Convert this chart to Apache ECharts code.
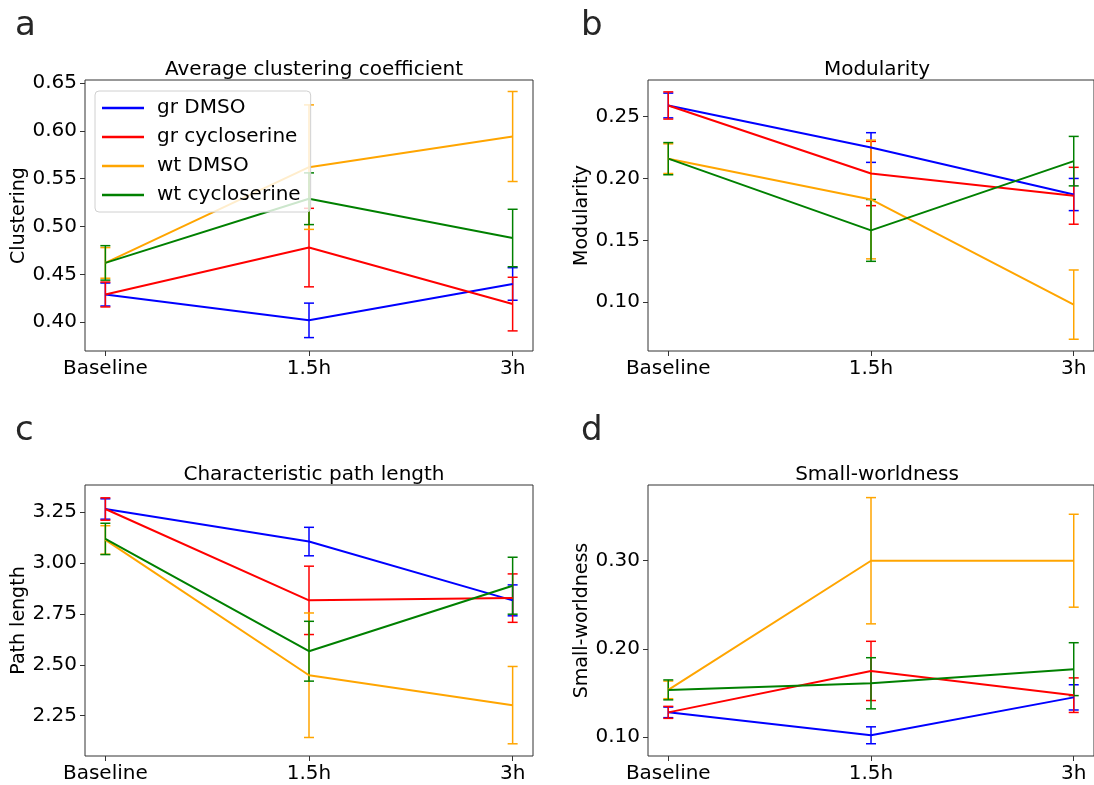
<!DOCTYPE html>
<html>
<head>
<meta charset="utf-8">
<script src="https://cdn.jsdelivr.net/npm/echarts@6/dist/echarts.min.js"></script>
<style>
  body { margin: 0; background: #fff; }
  #chart { width: 1094px; height: 785px; }
</style>
</head>
<body>
<div id="chart"></div>
<script>
var timePoints = ['Baseline', '1.5h', '3h'];
var groupNames = ['gr DMSO', 'gr cycloserine', 'wt DMSO', 'wt cycloserine'];
var groupColors = ['#0000ff', '#ff0000', '#ffa500', '#008000'];

// a - average clustering coefficient
var cluGrDmso = [0.429, 0.402, 0.440];
var cluGrDmsoErr = [0.012, 0.018, 0.017];
var cluGrCyclo = [0.429, 0.478, 0.419];
var cluGrCycloErr = [0.013, 0.041, 0.028];
var cluWtDmso = [0.462, 0.562, 0.594];
var cluWtDmsoErr = [0.016, 0.065, 0.047];
var cluWtCyclo = [0.462, 0.529, 0.488];
var cluWtCycloErr = [0.018, 0.027, 0.030];

// b - modularity
var modGrDmso = [0.259, 0.225, 0.187];
var modGrDmsoErr = [0.010, 0.012, 0.013];
var modGrCyclo = [0.259, 0.204, 0.186];
var modGrCycloErr = [0.011, 0.026, 0.023];
var modWtDmso = [0.216, 0.183, 0.098];
var modWtDmsoErr = [0.012, 0.048, 0.028];
var modWtCyclo = [0.216, 0.158, 0.214];
var modWtCycloErr = [0.013, 0.025, 0.020];

// c - characteristic path length
var pathGrDmso = [3.266, 3.106, 2.817];
var pathGrDmsoErr = [0.050, 0.070, 0.076];
var pathGrCyclo = [3.266, 2.817, 2.828];
var pathGrCycloErr = [0.055, 0.168, 0.119];
var pathWtDmso = [3.114, 2.449, 2.302];
var pathWtDmsoErr = [0.070, 0.306, 0.190];
var pathWtCyclo = [3.119, 2.567, 2.889];
var pathWtCycloErr = [0.077, 0.147, 0.140];

// d - small-worldness
var swGrDmso = [0.128, 0.102, 0.145];
var swGrDmsoErr = [0.006, 0.0096, 0.0143];
var swGrCyclo = [0.128, 0.175, 0.1475];
var swGrCycloErr = [0.0068, 0.0336, 0.0196];
var swWtDmso = [0.1535, 0.300, 0.300];
var swWtDmsoErr = [0.010, 0.0716, 0.0527];
var swWtCyclo = [0.1535, 0.161, 0.177];
var swWtCycloErr = [0.0113, 0.029, 0.030];

var yTicksClu = [0.40, 0.45, 0.50, 0.55, 0.60, 0.65];
var yTicksMod = [0.10, 0.15, 0.20, 0.25];
var yTicksPath = [2.25, 2.50, 2.75, 3.00, 3.25];
var yTicksSw = [0.10, 0.20, 0.30];

var panels = [
    { letter: 'a', title: 'Average clustering coefficient', ylabel: 'Clustering', left: 85, top: 80,
      min: 0.370, max: 0.653, ticks: yTicksClu,
      vals: [cluGrDmso, cluGrCyclo, cluWtDmso, cluWtCyclo],
      errs: [cluGrDmsoErr, cluGrCycloErr, cluWtDmsoErr, cluWtCycloErr] },
    { letter: 'b', title: 'Modularity', ylabel: 'Modularity', left: 648, top: 80,
      min: 0.0605, max: 0.2796, ticks: yTicksMod,
      vals: [modGrDmso, modGrCyclo, modWtDmso, modWtCyclo],
      errs: [modGrDmsoErr, modGrCycloErr, modWtDmsoErr, modWtCycloErr] },
    { letter: 'c', title: 'Characteristic path length', ylabel: 'Path length', left: 85, top: 485,
      min: 2.052, max: 3.384, ticks: yTicksPath,
      vals: [pathGrDmso, pathGrCyclo, pathWtDmso, pathWtCyclo],
      errs: [pathGrDmsoErr, pathGrCycloErr, pathWtDmsoErr, pathWtCycloErr] },
    { letter: 'd', title: 'Small-worldness', ylabel: 'Small-worldness', left: 648, top: 485,
      min: 0.0785, max: 0.3859, ticks: yTicksSw,
      vals: [swGrDmso, swGrCyclo, swWtDmso, swWtCyclo],
      errs: [swGrDmsoErr, swGrCycloErr, swWtDmsoErr, swWtCycloErr] }
];

var plotW = 448, plotH = 271;
var font = 'DejaVu Sans';

function errorBarItem(params, api) {
    var x = api.value(0), y = api.value(1), e = api.value(2);
    var hi = api.coord([x, y + e]);
    var lo = api.coord([x, y - e]);
    var cap = 5;
    var style = { stroke: api.visual('color'), lineWidth: 1.5 };
    return {
        type: 'group',
        children: [
            { type: 'line', shape: { x1: hi[0], y1: hi[1], x2: lo[0], y2: lo[1] }, style: style },
            { type: 'line', shape: { x1: hi[0] - cap, y1: hi[1], x2: hi[0] + cap, y2: hi[1] }, style: style },
            { type: 'line', shape: { x1: lo[0] - cap, y1: lo[1], x2: lo[0] + cap, y2: lo[1] }, style: style }
        ]
    };
}

var titles = [], grids = [], xAxes = [], yAxes = [], series = [];

panels.forEach(function(p, k) {
    titles.push({
        text: p.title, left: p.left + plotW / 2, top: p.top - 25, textAlign: 'center',
        textStyle: { fontFamily: font, fontSize: 20, fontWeight: 'normal', color: '#000' }
    });
    titles.push({
        text: p.letter, left: p.left < 300 ? 10 : 576, top: p.top - 76,
        textStyle: { fontFamily: font, fontSize: 34, fontWeight: 'normal', color: '#262626' }
    });
    grids.push({
        left: p.left, top: p.top, width: plotW, height: plotH,
        show: true, borderColor: '#333', borderWidth: 1, backgroundColor: 'transparent'
    });
    xAxes.push({
        type: 'value', gridIndex: k, min: -0.1, max: 2.1, position: 'bottom',
        axisLine: { show: false, onZero: false },
        splitLine: { show: false },
        axisTick: { show: true, length: 5, customValues: [0, 1, 2], lineStyle: { color: '#333' } },
        axisLabel: {
            customValues: [0, 1, 2], margin: 8, fontFamily: font, fontSize: 20, color: '#000',
            formatter: function(v) { return timePoints[Math.round(v)]; }
        }
    });
    yAxes.push({
        type: 'value', gridIndex: k, min: p.min, max: p.max, position: 'left',
        name: p.ylabel, nameLocation: 'middle', nameGap: 54,
        nameTextStyle: { fontFamily: font, fontSize: 19, color: '#000' },
        axisLine: { show: false, onZero: false },
        splitLine: { show: false },
        axisTick: { show: true, length: 5, customValues: p.ticks, lineStyle: { color: '#333' } },
        axisLabel: {
            customValues: p.ticks, margin: 8, fontFamily: font, fontSize: 20, color: '#000',
            formatter: function(v) { return v.toFixed(2); }
        }
    });
    for (var g = 0; g < groupNames.length; g++) {
        var vals = p.vals[g], errs = p.errs[g];
        series.push({
            name: groupNames[g], type: 'line', xAxisIndex: k, yAxisIndex: k,
            data: vals.map(function(v, i) { return [i, v]; }),
            symbol: 'none', color: groupColors[g],
            lineStyle: { width: 2, color: groupColors[g] },
            silent: true, animation: false
        });
        series.push({
            name: groupNames[g], type: 'custom', xAxisIndex: k, yAxisIndex: k,
            renderItem: errorBarItem,
            data: vals.map(function(v, i) { return [i, v, errs[i]]; }),
            encode: { x: 0, y: 1 },
            itemStyle: { color: groupColors[g] },
            silent: true, animation: false
        });
    }
});

var myChart = echarts.init(document.getElementById('chart'));
option = {
    backgroundColor: '#fff',
    animation: false,
    title: titles,
    legend: {
        data: groupNames.map(function(n) { return { name: n, icon: 'rect' }; }),
        orient: 'vertical', left: 95, top: 91,
        itemWidth: 42, itemHeight: 2.5, itemGap: 9,
        padding: [7, 10, 7, 7],
        backgroundColor: 'rgba(255,255,255,0.8)', borderColor: '#d0d0d0', borderWidth: 1, borderRadius: 4,
        textStyle: { fontFamily: font, fontSize: 20, color: '#000', padding: [0, 0, 0, 8] },
        z: 10
    },
    grid: grids,
    xAxis: xAxes,
    yAxis: yAxes,
    series: series
};
myChart.setOption(option);
</script>
</body>
</html>
